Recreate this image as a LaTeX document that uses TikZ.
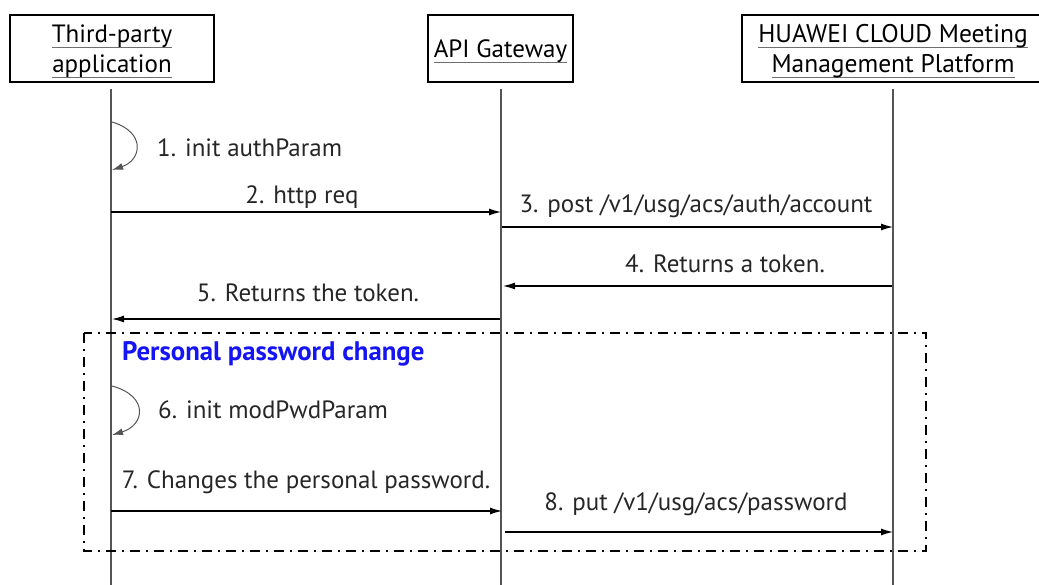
\documentclass[tikz,border=0pt]{standalone}
\usepackage{fontspec}
\setmainfont{PT Sans}
\usetikzlibrary{arrows.meta}
\definecolor{lifegray}{RGB}{85,85,85}
\definecolor{ulgray}{RGB}{110,110,110}
\definecolor{titleblue}{RGB}{20,20,245}
\newcommand\ulx[1]{\setbox0\hbox{#1}\rlap{\color{ulgray}\rule[-5pt]{\wd0}{1.3pt}}\box0}
\begin{document}
\begin{tikzpicture}[x=1pt,y=-1pt,
  font=\fontsize{25}{30}\selectfont,
  actor/.style={draw=black, line width=1.2pt, minimum height=67pt, inner sep=0pt},
  head/.style={anchor=base, inner sep=0pt},
  life/.style={draw=lifegray, line width=1.4pt},
  msg/.style={draw=black, line width=1.2pt, -{Latex[length=12pt,width=7pt]}},
  selfmsg/.style={draw=lifegray, line width=1pt, -{Latex[length=11pt,width=7pt]}},
  lbl/.style={anchor=base, inner sep=0pt, text=black!85},
  group/.style={draw=black, line width=1.1pt, dash pattern=on 10pt off 6pt on 2pt off 6pt}]
\useasboundingbox (0,0) rectangle (1039,585);
\clip (0,0) rectangle (1039,585);

% actors
\node[actor, minimum width=204pt] (tp) at (112,48.5) {};
\node[actor, minimum width=145pt] (gw) at (500.5,48.5) {};
\node[actor, minimum width=302pt] (hw) at (893,48.5) {};
\node[head] (tp1) at (112,43) {\ulx{Third-party}};
\node[head] (tp2) at (112,73) {\ulx{application}};
\node[head] (gw1) at (500.5,58) {\ulx{API Gateway}};
\node[head, font=\fontsize{25.5}{30}\selectfont] (hw1) at (893,43) {\ulx{HUAWEI CLOUD Meeting}};
\node[head, font=\fontsize{25.5}{30}\selectfont] (hw2) at (893,73) {\ulx{Management Platform}};

% lifelines
\coordinate (l1t) at (111,89);   \coordinate (l1b) at (111,585);
\coordinate (l2t) at (501,89);   \coordinate (l2b) at (501,585);
\coordinate (l3t) at (893,89);   \coordinate (l3b) at (893,585);
\draw[life] (l1t) -- (l1b);
\draw[life] (l2t) -- (l2b);
\draw[life] (l3t) -- (l3b);

% group frame
\coordinate (g1) at (84,333);
\coordinate (g2) at (926,551);
\draw[group] (g1) rectangle (g2);
\node[anchor=base west, inner sep=0pt, text=titleblue, font=\fontsize{26.8}{30}\selectfont\bfseries] (gt) at (122,360) {Personal password change};

% 1 self message
\coordinate (s1a) at (112,122);
\coordinate (s1b) at (112,170);
\draw[selfmsg] (s1a) .. controls (146,132) and (142,160) .. (s1b);
\node[lbl, anchor=base west] (t1) at (157,157) {1. init authParam};

% 2
\coordinate (m2a) at (111,212); \coordinate (m2b) at (501,212);
\draw[msg] (m2a) -- (m2b);
\node[lbl] (t2) at (302,204) {2. http req};

% 3
\coordinate (m3a) at (502,227); \coordinate (m3b) at (893,227);
\draw[msg] (m3a) -- (m3b);
\node[lbl] (t3) at (696,213) {3. post /v1/usg/acs/auth/account};

% 4
\coordinate (m4a) at (892,286); \coordinate (m4b) at (503,286);
\draw[msg] (m4a) -- (m4b);
\node[lbl] (t4) at (725,273) {4. Returns a token.};

% 5
\coordinate (m5a) at (500,319); \coordinate (m5b) at (112,319);
\draw[msg] (m5a) -- (m5b);
\node[lbl] (t5) at (308,302) {5. Returns the token.};

% 6 self message
\coordinate (s6a) at (112,386);
\coordinate (s6b) at (112,435);
\draw[selfmsg] (s6a) .. controls (149,396) and (145,425) .. (s6b);
\node[lbl, anchor=base west] (t6) at (158,418) {6. init modPwdParam};

% 7
\coordinate (m7a) at (111,511); \coordinate (m7b) at (502,511);
\draw[msg] (m7a) -- (m7b);
\node[lbl] (t7) at (306,488) {7. Changes the personal password.};

% 8
\coordinate (m8a) at (505,532); \coordinate (m8b) at (893,532);
\draw[msg] (m8a) -- (m8b);
\node[lbl] (t8) at (696,510) {8. put /v1/usg/acs/password};
\end{tikzpicture}
\end{document}
